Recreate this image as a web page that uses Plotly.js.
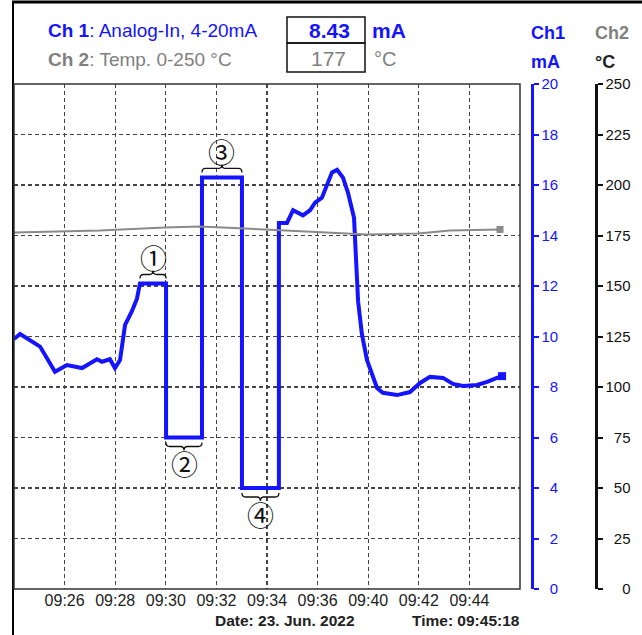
<!DOCTYPE html>
<html><head><meta charset="utf-8">
<script src="https://cdn.plot.ly/plotly-3.0.1.min.js"></script>
<style>html,body{margin:0;padding:0;background:#fff;}#chart{width:642px;height:635px;}</style>
</head><body><div id="chart"></div>
<script>
// ---- data (x in grid units: 2 per gridline, labels irregular) ----
const xTickVals = [2, 4, 6, 8, 10, 12, 14, 16, 18];
const xTickText = ['09:26', '09:28', '09:30', '09:32', '09:34', '09:36', '09:40', '09:42', '09:44'];

const ch1X = [0, 0.24, 1.03, 1.62, 2.09, 2.69, 3.28, 3.48, 3.79, 3.99, 4.19, 4.39, 4.66, 4.86, 4.98,
  6.01, 6.01, 7.43, 7.43, 9.01, 9.01, 10.47, 10.47, 10.79, 11.03, 11.42, 11.70, 11.90, 12.17, 12.33,
  12.57, 12.77, 13.00, 13.20, 13.36, 13.44, 13.60, 13.75, 13.95, 14.19, 14.35, 14.58, 15.14, 15.65,
  16.05, 16.44, 16.96, 17.35, 17.75, 18.30, 18.70, 19.09, 19.29];
const ch1Y = [9.9, 10.1, 9.6, 8.6, 8.87, 8.75, 9.1, 9.0, 9.1, 8.75, 9.07, 10.46, 11.0, 11.5, 12.1,
  12.1, 6.0, 6.0, 16.3, 16.3, 4.0, 4.0, 14.5, 14.5, 15.0, 14.8, 15.0, 15.3, 15.5, 15.9,
  16.5, 16.6, 16.3, 15.7, 15.1, 14.7, 11.4, 10.1, 9.07, 8.4, 7.96, 7.77, 7.68, 7.8,
  8.16, 8.4, 8.36, 8.12, 8.04, 8.08, 8.2, 8.36, 8.43];

const ch2X = [0, 3.40, 5.97, 7.35, 9.92, 12.49, 13.95, 15.97, 17.23, 19.21];
const ch2Y = [176.5, 177.5, 179, 179.5, 178, 176.5, 175.5, 176, 177.5, 178];

const ch1Ticks = [0, 2, 4, 6, 8, 10, 12, 14, 16, 18, 20];
const ch2Ticks = [0, 25, 50, 75, 100, 125, 150, 175, 200, 225, 250];

const zoneLabels = ['\u2460', '\u2461', '\u2462', '\u2463'];
const zoneStartIdx = [14, 16, 18, 20];
const zoneSide = [1, -1, 1, -1];

const ch1Title = '<b>Ch 1</b>: Analog-In, 4-20mA';
const ch2Title = '<b>Ch 2</b>: Temp. 0-250 °C';
const ch1Value = '8.43';
const ch2Value = '177';
const dateText = 'Date: 23. Jun. 2022';
const timeText = 'Time: 09:45:18';

// ---- layout helpers ----
const W = 642, H = 635, mL = 14, mR = 0, mT = 84, mB = 46;
const plotW = W - mL - mR, plotH = H - mT - mB;
const px = v => (v - mL) / plotW;
const py = v => (H - mB - v) / plotH;

const BLUE = '#1414ff';
const GRAY = '#808080';
const FONT = 'Liberation Sans, Arial, sans-serif';

function pad(arr, n) {
  return arr.map(v => { let s = String(v); while (s.length < n) s = '\u2007' + s; return s; });
}

const traces = [
  {x: ch2X, y: ch2Y, yaxis: 'y2', mode: 'lines', line: {color: '#8a8a8a', width: 2}, hoverinfo: 'skip'},
  {x: [ch2X[ch2X.length - 1]], y: [ch2Y[ch2Y.length - 1]], yaxis: 'y2', mode: 'markers',
    marker: {symbol: 'square', size: 7, color: '#8a8a8a'}, hoverinfo: 'skip'},
  {x: ch1X, y: ch1Y, mode: 'lines', line: {color: BLUE, width: 4}, hoverinfo: 'skip'},
  {x: [ch1X[ch1X.length - 1]], y: [ch1Y[ch1Y.length - 1]], mode: 'markers',
    marker: {symbol: 'square', size: 8, color: BLUE}, hoverinfo: 'skip'}
];

const shapes = [
  {type: 'line', xref: 'paper', yref: 'paper', x0: px(12), x1: px(642), y0: py(2), y1: py(2), line: {color: '#000', width: 3}},
  {type: 'line', xref: 'paper', yref: 'paper', x0: px(13), x1: px(13), y0: py(1), y1: py(635), line: {color: '#000', width: 2}},
  {type: 'rect', xref: 'paper', yref: 'paper', x0: 0, x1: px(520), y0: 0, y1: 1, line: {color: '#333', width: 1.5}},
  {type: 'rect', xref: 'paper', yref: 'paper', x0: px(287), x1: px(365), y0: py(43), y1: py(17), line: {color: '#111', width: 1.5}},
  {type: 'rect', xref: 'paper', yref: 'paper', x0: px(287), x1: px(365), y0: py(72), y1: py(43), line: {color: '#111', width: 1.5}}
];

const annotations = [
  {text: ch1Title, x: px(46), y: py(31), xanchor: 'left', yanchor: 'middle', font: {size: 19, color: BLUE}},
  {text: ch2Title, x: px(46), y: py(60), xanchor: 'left', yanchor: 'middle', font: {size: 19, color: GRAY}},
  {text: '<b>' + ch1Value + '</b>', x: px(352), y: py(31), xanchor: 'right', yanchor: 'middle', font: {size: 21, color: BLUE}},
  {text: ch2Value, x: px(348), y: py(59), xanchor: 'right', yanchor: 'middle', font: {size: 21, color: GRAY}},
  {text: '<b>mA</b>', x: px(370), y: py(31), xanchor: 'left', yanchor: 'middle', font: {size: 21, color: BLUE}},
  {text: '°C', x: px(372), y: py(59), xanchor: 'left', yanchor: 'middle', font: {size: 20, color: GRAY}},
  {text: '<b>Ch1</b>', x: px(529), y: py(33), xanchor: 'left', yanchor: 'middle', font: {size: 18, color: BLUE}},
  {text: '<b>mA</b>', x: px(529), y: py(62), xanchor: 'left', yanchor: 'middle', font: {size: 18, color: BLUE}},
  {text: '<b>Ch2</b>', x: px(593), y: py(33), xanchor: 'left', yanchor: 'middle', font: {size: 18, color: GRAY}},
  {text: '<b>°C</b>', x: px(593), y: py(62), xanchor: 'left', yanchor: 'middle', font: {size: 18, color: '#222'}},
  {text: '<b>' + dateText + '</b>', x: px(285), y: py(620), xanchor: 'center', yanchor: 'middle', font: {size: 15.5, color: '#222'}},
  {text: '<b>' + timeText + '</b>', x: px(466), y: py(620), xanchor: 'center', yanchor: 'middle', font: {size: 15.5, color: '#222'}}
].map(a => Object.assign({xref: 'paper', yref: 'paper', showarrow: false}, a));

// braces and circled numbers from the flat zones in the data
zoneLabels.forEach((lab, i) => {
  const k = zoneStartIdx[i];
  const x0 = ch1X[k], x1 = ch1X[k + 1], lvl = ch1Y[k], s = zoneSide[i];
  const xm = (x0 + x1) / 2, d = 0.14;
  const a = s * 5, b = s * 9, c = s * 13;
  shapes.push({
    type: 'path', xref: 'x', yref: 'y', ysizemode: 'pixel', yanchor: lvl,
    path: `M${x0},${a} Q${x0},${b} ${x0 + d},${b} L${xm - d},${b} Q${xm},${b} ${xm},${c} Q${xm},${b} ${xm + d},${b} L${x1 - d},${b} Q${x1},${b} ${x1},${a}`,
    line: {color: '#111', width: 1.3}
  });
  annotations.push({text: lab, x: xm, y: lvl, xref: 'x', yref: 'y', showarrow: false, yshift: s * 26,
    font: {size: 27, color: '#111', family: 'Noto Sans CJK JP, DejaVu Sans'}});
});

const gridStyle = {showgrid: true, gridcolor: '#444', griddash: '4px,3px', gridwidth: 1.2};

const layout = {
  width: W, height: H,
  margin: {l: mL, r: mR, t: mT, b: mB, pad: 0},
  paper_bgcolor: '#fff', plot_bgcolor: '#fff',
  showlegend: false, hovermode: false,
  font: {family: FONT, color: '#222'},
  xaxis: Object.assign({
    domain: [0, px(520)], range: [0, 20], tickvals: xTickVals, ticktext: xTickText,
    zeroline: false, showline: false, ticks: '', tickfont: {size: 16, color: '#222'}, fixedrange: true
  }, gridStyle),
  yaxis: Object.assign({
    range: [0, 20], tickvals: ch1Ticks, ticktext: pad(ch1Ticks, 2), side: 'right', anchor: 'free', position: px(532),
    showline: true, linecolor: BLUE, linewidth: 2.5, ticks: 'outside', ticklen: 5, tickwidth: 2, tickcolor: BLUE,
    tickfont: {size: 15, color: BLUE}, zeroline: false, fixedrange: true
  }, gridStyle),
  yaxis2: {
    overlaying: 'y', range: [0, 250], tickvals: ch2Ticks, ticktext: pad(ch2Ticks, 3), side: 'right', anchor: 'free', position: px(596),
    showline: true, linecolor: '#111', linewidth: 2.5, ticks: 'outside', ticklen: 5, tickwidth: 2, tickcolor: '#111',
    tickfont: {size: 15, color: '#111'}, showgrid: false, zeroline: false, fixedrange: true
  },
  shapes: shapes,
  annotations: annotations
};

Plotly.newPlot('chart', traces, layout, {staticPlot: true, displayModeBar: false});
</script></body></html>
